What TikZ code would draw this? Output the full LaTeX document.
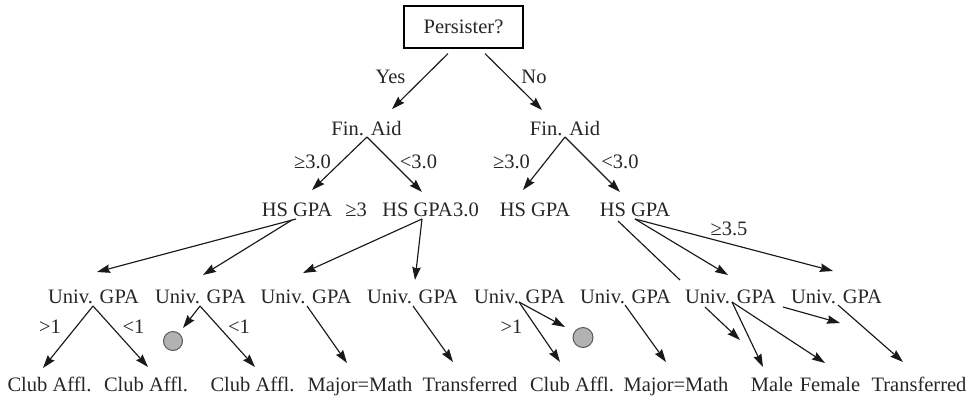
\documentclass[tikz,border=0pt]{standalone}
\usepackage{fontspec}
\setmainfont{Liberation Serif}
\usetikzlibrary{arrows.meta}
\begin{document}
\begin{tikzpicture}[x=1pt,y=-1pt,
  txt/.style={inner sep=0pt, anchor=base, text=black!85, font=\fontsize{20.5}{24}\selectfont},
  topbox/.style={draw, line width=1.2pt, inner sep=0pt, minimum width=119pt, minimum height=42pt, text=black!85, font=\fontsize{20.5}{24}\selectfont},
  arr/.style={draw=black!90, line width=1.15pt, -{Stealth[length=13pt,width=8.5pt,inset=1.5pt]}},
  plain/.style={draw=black!90, line width=1.15pt},
  dot/.style={circle, draw=black!65, line width=1pt, fill=black!30, inner sep=0pt, minimum size=#1}
]
\useasboundingbox (0,0) rectangle (969,400);
% root
\node[topbox] (ps) at (463.5,27) {Persister?};
\node[txt] (yes) at (390.5,83) {Yes};
\node[txt] (no) at (534,83) {No};
% level 1
\node[txt] (finL) at (366.5,135) {Fin. Aid};
\node[txt] (finR) at (565,135) {Fin. Aid};
\node[txt] (geL) at (312.5,168) {≥3.0};
\node[txt] (ltL) at (418.5,168) {<3.0};
\node[txt] (geR) at (511.5,168) {≥3.0};
\node[txt] (ltR) at (620,168) {<3.0};
% level 2
\node[txt] (hsA) at (297,216) {HS GPA};
\node[txt] (geA) at (356,216) {≥3};
\node[txt] (hsB) at (417.5,216) {HS GPA};
\node[txt, anchor=base west] (lbB) at (hsB.base east) {3.0};
\node[txt] (hsC) at (535,216) {HS GPA};
\node[txt] (hsD) at (635,216) {HS GPA};
\node[txt] (ge35) at (729,235) {≥3.5};
% level 3
\node[txt] (u1) at (93.5,303) {Univ. GPA};
\node[txt] (u2) at (200.5,303) {Univ. GPA};
\node[txt] (u3) at (306,303) {Univ. GPA};
\node[txt] (u4) at (412.5,303) {Univ. GPA};
\node[txt] (u5) at (519.5,303) {Univ. GPA};
\node[txt] (u6) at (625.5,303) {Univ. GPA};
\node[txt] (u7) at (730.5,303) {Univ. GPA};
\node[txt] (u8) at (836.5,303) {Univ. GPA};
\node[txt] (gtA) at (50,333) {>1};
\node[txt] (ltA) at (133.5,333) {<1};
\node[txt] (ltB) at (239,333) {<1};
\node[txt] (gtB) at (511.5,333) {>1};
\node[dot=19pt] (circ1) at (173,341) {};
\node[dot=20pt] (circ2) at (583,337.5) {};
% level 4
\node[txt] (c1) at (49.5,391) {Club Affl.};
\node[txt] (c2) at (146,391) {Club Affl.};
\node[txt] (c3) at (252.5,391) {Club Affl.};
\node[txt] (m1) at (360,391) {Major=Math};
\node[txt] (t1) at (470,391) {Transferred};
\node[txt] (c4) at (572,391) {Club Affl.};
\node[txt] (m2) at (676,391) {Major=Math};
\node[txt] (male) at (772,391) {Male};
\node[txt] (female) at (830,391) {Female};
\node[txt] (t2) at (919,391) {Transferred};
% connectors
\draw[arr] ([shift={(-15.5,5)}]ps.south) -- ([shift={(25.5,-26)}]finL.base);
\draw[arr] ([shift={(21.5,5)}]ps.south) -- ([shift={(-23,-25)}]finR.base);
\draw[arr] ([shift={(0.5,2)}]finL.base) -- ([shift={(15,-26)}]hsA.base);
\draw[arr] ([shift={(0.5,2)}]finL.base) -- ([shift={(4.5,-24)}]hsB.base);
\draw[arr] ([shift={(0,2)}]finR.base) -- ([shift={(-12,-26)}]hsC.base);
\draw[arr] ([shift={(0,2)}]finR.base) -- ([shift={(-15,-24)}]hsD.base);
\draw[arr] ([shift={(-1,3)}]hsA.base) -- ([shift={(3.5,-31)}]u1.base);
\draw[arr] ([shift={(-5,4)}]hsA.base) -- ([shift={(2.5,-28)}]u2.base);
\draw[arr] ([shift={(4.5,3)}]hsB.base) -- ([shift={(-3,-30)}]u3.base);
\draw[arr] ([shift={(4.5,3)}]hsB.base) -- ([shift={(2.5,-23)}]u4.base);
\draw[plain] ([shift={(-17,5)}]hsD.base) -- ([shift={(-50.5,-23)}]u7.base);
\draw[arr] ([shift={(0,3)}]hsD.base) -- ([shift={(-2.5,-28)}]u7.base);
\draw[arr] ([shift={(0,3)}]hsD.base) -- ([shift={(-3.5,-32)}]u8.base);
\draw[arr] ([shift={(-0.5,3)}]u1.base) -- ([shift={(-6.5,-23)}]c1.base);
\draw[arr] ([shift={(-0.5,3)}]u1.base) -- ([shift={(2,-24)}]c2.base);
\draw[arr] ([shift={(-0.5,3)}]u2.base) -- ([shift={(10,-13)}]circ1.center);
\draw[arr] ([shift={(-0.5,3)}]u2.base) -- ([shift={(2.5,-24)}]c3.base);
\draw[arr] ([shift={(1,3)}]u3.base) -- ([shift={(-13,-28)}]m1.base);
\draw[arr] ([shift={(0.5,3)}]u4.base) -- ([shift={(-17,-29)}]t1.base);
\draw[arr] ([shift={(-0.5,-1)}]u5.base) -- ([shift={(-18,-10.5)}]circ2.center);
\draw[arr] ([shift={(-0.5,-1)}]u5.base) -- ([shift={(-12,-29)}]c4.base);
\draw[arr] ([shift={(-0.5,2)}]u6.base) -- ([shift={(-10,-29)}]m2.base);
\draw[arr] ([shift={(-25.5,4)}]u7.base) -- ([shift={(-32,-51)}]male.base);
\draw[arr] ([shift={(1.5,-1)}]u7.base) -- ([shift={(-9,-24)}]male.base);
\draw[arr] ([shift={(1.5,-1)}]u7.base) -- ([shift={(-5,-28)}]female.base);
\draw[arr] ([shift={(-53.5,4)}]u8.base) -- ([shift={(3.5,20)}]u8.base);
\draw[arr] ([shift={(1.5,2)}]u8.base) -- ([shift={(-16,-29)}]t2.base);
\end{tikzpicture}
\end{document}
